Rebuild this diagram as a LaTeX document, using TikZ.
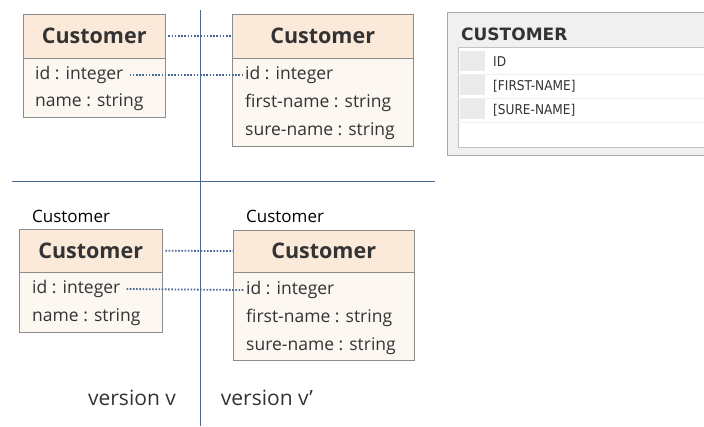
\documentclass[tikz,border=0pt]{standalone}
\usepackage{fontspec}
\setmainfont{Open Sans}
\newfontfamily\tblfont{DejaVu Sans Condensed}
\newfontfamily\tblhead{DejaVu Sans}
\definecolor{hdrfill}{HTML}{FBEADA}
\definecolor{bodyfill}{HTML}{FDF7F2}
\definecolor{boxline}{HTML}{8C8C8C}
\definecolor{sepline}{HTML}{4A6894}
\definecolor{tblbg}{HTML}{F0F0F0}
\definecolor{tblline}{HTML}{A8A8A8}
\definecolor{cellgray}{HTML}{EAEAEA}
\definecolor{txt}{HTML}{333333}
\begin{document}
\begin{tikzpicture}[x=1pt,y=-1pt,
  hdrbox/.style={draw=boxline,fill=hdrfill,inner sep=0pt,anchor=north west},
  bodybox/.style={draw=boxline,fill=bodyfill,inner sep=0pt,anchor=north west},
  hdrtext/.style={font=\fontsize{21.5}{24}\selectfont\bfseries,text=txt},
  attr/.style={font=\fontsize{17.5}{20}\selectfont,text=txt,anchor=west,inner sep=0pt},
  lbl/.style={font=\fontsize{17}{19}\selectfont,text=black,anchor=west,inner sep=0pt},
  ver/.style={font=\fontsize{21}{24}\selectfont,text=txt,inner sep=0pt},
  link/.style={draw=sepline,line width=1.8pt,dash pattern=on 1.6pt off 1.6pt},
  divider/.style={draw=sepline,line width=0.9pt},
  tbltext/.style={font=\tblfont\fontsize{13.5}{15}\selectfont,text=txt,anchor=west,inner sep=0pt}]
\useasboundingbox (0,0) rectangle (704,426);
\fill[white] (0,0) rectangle (704,426);

% dividers
\coordinate (vtop) at (200,10);
\coordinate (vbot) at (200,426);
\coordinate (hl) at (12,181);
\coordinate (hr) at (435,181);
\draw[divider] (vtop) -- (vbot);
\draw[divider] (hl) -- (hr);

% ---- top-left class
\node[bodybox,minimum width=142pt,minimum height=59pt] (b1) at (23,57.7) {};
\node[hdrbox,minimum width=142pt,minimum height=43.7pt] (h1) at (23,14) {};
\node[hdrtext] (t1) at (h1.center) {Customer};
\node[attr] (a1id) at (35,75) {id : integer};
\node[attr] (a1nm) at (35,102) {name : string};

% ---- top-right class
\node[bodybox,minimum width=181pt,minimum height=88pt] (b2) at (232,57.7) {};
\node[hdrbox,minimum width=181pt,minimum height=43.7pt] (h2) at (232,14) {};
\node[hdrtext] (t2) at (h2.center) {Customer};
\node[attr] (a2id) at (245,75) {id : integer};
\node[attr] (a2fn) at (245,103) {first-name : string};
\node[attr] (a2sn) at (245,131) {sure-name : string};

\draw[link] ([xshift=3pt]h1.east) -- (h2.west);
\draw[link] ([xshift=6pt]a1id.east) -- ([xshift=-2pt]a2id.west);

% ---- bottom-left class
\node[lbl] (c3) at (32,216) {Customer};
\node[bodybox,minimum width=143pt,minimum height=60.3pt] (b3) at (19,271.7) {};
\node[hdrbox,minimum width=143pt,minimum height=42.4pt] (h3) at (19,229.3) {};
\node[hdrtext] (t3) at (h3.center) {Customer};
\node[attr] (a3id) at (32,289) {id : integer};
\node[attr] (a3nm) at (32,317) {name : string};

% ---- bottom-right class
\node[lbl] (c4) at (246,216) {Customer};
\node[bodybox,minimum width=181pt,minimum height=88.3pt] (b4) at (233,271.7) {};
\node[hdrbox,minimum width=181pt,minimum height=41.7pt] (h4) at (233,230) {};
\node[hdrtext] (t4) at (h4.center) {Customer};
\node[attr] (a4id) at (246,290) {id : integer};
\node[attr] (a4fn) at (246,318) {first-name : string};
\node[attr] (a4sn) at (246,346) {sure-name : string};

\draw[link] ([xshift=3pt]h3.east) -- (h4.west);
\draw[link] ([xshift=6pt]a3id.east) -- ([xshift=-2pt]a4id.west);

% version labels
\node[ver] (v1) at (132,398) {version v};
\node[ver] (v2) at (267,398) {version v{\char"27}};

% ---- database table
\node[draw=tblline,fill=tblbg,line width=0.8pt,inner sep=0pt,anchor=north west,minimum width=265pt,minimum height=143pt] (tbl) at (447,12) {};
\node[font=\tblhead\fontsize{17}{19}\selectfont\bfseries,text=txt,anchor=west,inner sep=0pt] (tname) at (461,34) {CUSTOMER};
\node[draw=tblline!70,fill=white,inner sep=0pt,anchor=north west,minimum width=255pt,minimum height=100pt] (tin) at (458,47) {};
\foreach \y/\n in {51/r1,75/r2,99/r3}{
  \node[fill=cellgray,inner sep=0pt,anchor=north west,minimum width=25pt,minimum height=20pt] (\n) at (460,\y) {};
}
\foreach \y in {74,98,122}{
  \draw[cellgray!70,line width=0.5pt] (458,\y) -- (704,\y);
}
\node[tbltext] (f1) at (493,62) {ID};
\node[tbltext] (f2) at (493,86) {[FIRST-NAME]};
\node[tbltext] (f3) at (493,110) {[SURE-NAME]};
\end{tikzpicture}
\end{document}
